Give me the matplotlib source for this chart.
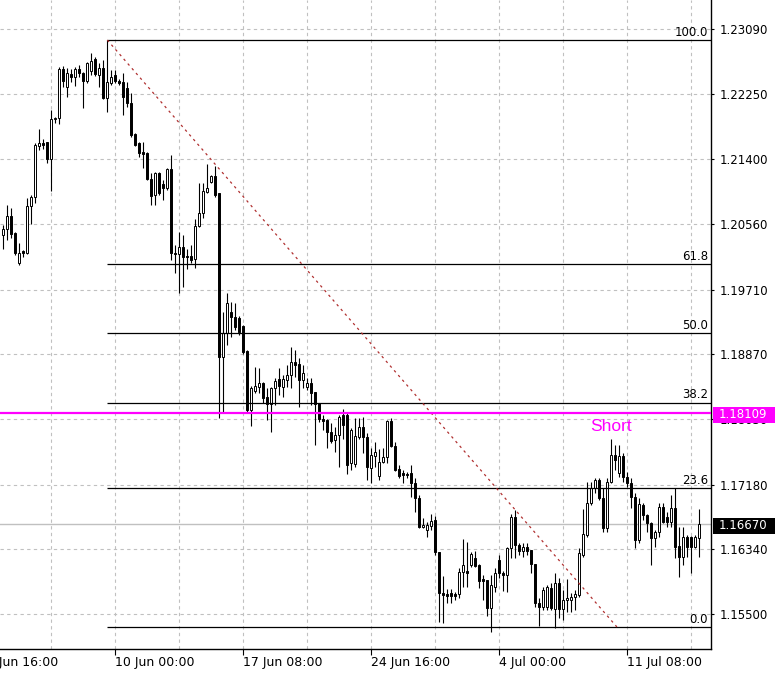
import numpy as np
import matplotlib
matplotlib.use("Agg")
import matplotlib.pyplot as plt
import matplotlib.transforms as mtransforms
from matplotlib.patches import Rectangle

# H4 candles (oldest first)
opens = [1.2042, 1.2050, 1.2066, 1.2044, 1.2006, 1.2021, 1.2019, 1.2079, 1.2091, 1.2157,
         1.2161, 1.2162, 1.2140, 1.2192, 1.2194, 1.2257, 1.2234, 1.2251, 1.2247, 1.2257,
         1.2252, 1.2242, 1.2255, 1.2270, 1.2249, 1.2258, 1.2220, 1.2239, 1.2249, 1.2242,
         1.2240, 1.2233, 1.2213, 1.2173, 1.2161, 1.2150, 1.2148, 1.2114, 1.2094, 1.2122,
         1.2108, 1.2103, 1.2127, 1.2019, 1.2017, 1.2026, 1.2015, 1.2015, 1.2011, 1.2054,
         1.2070, 1.2098, 1.2111, 1.2118, 1.2096, 1.1884, 1.1915, 1.1942, 1.1936, 1.1934,
         1.1924, 1.1891, 1.1815, 1.1840, 1.1845, 1.1850, 1.1832, 1.1823, 1.1843, 1.1855,
         1.1845, 1.1854, 1.1860, 1.1877, 1.1875, 1.1854, 1.1845, 1.1850, 1.1838, 1.1824,
         1.1803, 1.1802, 1.1786, 1.1776, 1.1782, 1.1808, 1.1808, 1.1746, 1.1745, 1.1780,
         1.1793, 1.1780, 1.1740, 1.1755, 1.1729, 1.1747, 1.1754, 1.1801, 1.1768, 1.1738,
         1.1733, 1.1732, 1.1733, 1.1720, 1.1701, 1.1663, 1.1659, 1.1664, 1.1672, 1.1631,
         1.1578, 1.1576, 1.1578, 1.1576, 1.1576, 1.1605, 1.1606, 1.1614, 1.1623, 1.1614,
         1.1596, 1.1594, 1.1558, 1.1585, 1.1620, 1.1603, 1.1601, 1.1636, 1.1676, 1.1640,
         1.1632, 1.1637, 1.1633, 1.1615, 1.1565, 1.1559, 1.1559, 1.1584, 1.1557, 1.1590,
         1.1557, 1.1568, 1.1568, 1.1572, 1.1575, 1.1627, 1.1653, 1.1694, 1.1714, 1.1724,
         1.1701, 1.1662, 1.1721, 1.1757, 1.1733, 1.1755, 1.1728, 1.1720, 1.1702, 1.1646,
         1.1692, 1.1679, 1.1668, 1.1649, 1.1657, 1.1689, 1.1676, 1.1670, 1.1688, 1.1638,
         1.1624, 1.1650, 1.1650, 1.1637, 1.1649]
highs = [1.2055, 1.2081, 1.2077, 1.2046, 1.2031, 1.2022, 1.2090, 1.2094, 1.2161, 1.2179,
         1.2166, 1.2162, 1.2204, 1.2195, 1.2260, 1.2261, 1.2258, 1.2257, 1.2260, 1.2262,
         1.2253, 1.2266, 1.2278, 1.2273, 1.2265, 1.2269, 1.2295, 1.2256, 1.2256, 1.2244,
         1.2252, 1.2240, 1.2226, 1.2174, 1.2162, 1.2162, 1.2150, 1.2122, 1.2124, 1.2124,
         1.2113, 1.2129, 1.2146, 1.2029, 1.2046, 1.2042, 1.2024, 1.2029, 1.2063, 1.2109,
         1.2109, 1.2134, 1.2120, 1.2131, 1.2096, 1.1942, 1.1967, 1.1955, 1.1954, 1.1937,
         1.1925, 1.1893, 1.1846, 1.1871, 1.1869, 1.1851, 1.1843, 1.1845, 1.1856, 1.1869,
         1.1860, 1.1873, 1.1897, 1.1893, 1.1882, 1.1873, 1.1856, 1.1856, 1.1838, 1.1824,
         1.1808, 1.1803, 1.1798, 1.1793, 1.1808, 1.1816, 1.1811, 1.1792, 1.1805, 1.1805,
         1.1806, 1.1785, 1.1766, 1.1773, 1.1764, 1.1766, 1.1802, 1.1805, 1.1773, 1.1744,
         1.1737, 1.1734, 1.1744, 1.1727, 1.1705, 1.1675, 1.1670, 1.1680, 1.1677, 1.1631,
         1.1600, 1.1583, 1.1583, 1.1579, 1.1610, 1.1648, 1.1644, 1.1631, 1.1632, 1.1615,
         1.1601, 1.1594, 1.1601, 1.1610, 1.1627, 1.1606, 1.1637, 1.1680, 1.1685, 1.1642,
         1.1642, 1.1642, 1.1633, 1.1615, 1.1571, 1.1585, 1.1588, 1.1590, 1.1603, 1.1597,
         1.1581, 1.1596, 1.1578, 1.1581, 1.1636, 1.1686, 1.1721, 1.1721, 1.1727, 1.1727,
         1.1714, 1.1727, 1.1777, 1.1769, 1.1769, 1.1759, 1.1734, 1.1727, 1.1707, 1.1701,
         1.1694, 1.1680, 1.1670, 1.1659, 1.1694, 1.1694, 1.1683, 1.1705, 1.1714, 1.1663,
         1.1663, 1.1653, 1.1651, 1.1653, 1.1686]
lows = [1.2024, 1.2035, 1.2038, 1.2016, 1.2003, 1.2013, 1.2017, 1.2056, 1.2083, 1.2152,
        1.2153, 1.2135, 1.2099, 1.2187, 1.2186, 1.2234, 1.2221, 1.2240, 1.2235, 1.2247,
        1.2207, 1.2239, 1.2249, 1.2248, 1.2234, 1.2218, 1.2201, 1.2236, 1.2239, 1.2236,
        1.2197, 1.2208, 1.2169, 1.2157, 1.2143, 1.2129, 1.2113, 1.2081, 1.2081, 1.2094,
        1.2087, 1.2100, 1.2009, 1.1993, 1.1967, 1.1974, 1.1998, 1.2006, 1.1999, 1.2052,
        1.2064, 1.2096, 1.2109, 1.2091, 1.1805, 1.1811, 1.1899, 1.1910, 1.1919, 1.1912,
        1.1888, 1.1811, 1.1794, 1.1837, 1.1837, 1.1824, 1.1802, 1.1786, 1.1821, 1.1834,
        1.1832, 1.1845, 1.1843, 1.1858, 1.1819, 1.1843, 1.1841, 1.1821, 1.1769, 1.1799,
        1.1789, 1.1766, 1.1772, 1.1760, 1.1741, 1.1777, 1.1732, 1.1737, 1.1741, 1.1777,
        1.1759, 1.1724, 1.1720, 1.1741, 1.1724, 1.1746, 1.1746, 1.1767, 1.1736, 1.1727,
        1.1720, 1.1727, 1.1702, 1.1683, 1.1662, 1.1662, 1.1650, 1.1659, 1.1627, 1.1540,
        1.1539, 1.1565, 1.1565, 1.1568, 1.1571, 1.1585, 1.1585, 1.1611, 1.1611, 1.1584,
        1.1568, 1.1548, 1.1527, 1.1579, 1.1597, 1.1580, 1.1579, 1.1623, 1.1623, 1.1627,
        1.1624, 1.1627, 1.1603, 1.1559, 1.1535, 1.1555, 1.1555, 1.1555, 1.1532, 1.1545,
        1.1543, 1.1553, 1.1553, 1.1555, 1.1572, 1.1624, 1.1650, 1.1692, 1.1707, 1.1698,
        1.1657, 1.1657, 1.1720, 1.1737, 1.1728, 1.1721, 1.1715, 1.1688, 1.1636, 1.1642,
        1.1672, 1.1657, 1.1614, 1.1637, 1.1650, 1.1668, 1.1663, 1.1663, 1.1623, 1.1598,
        1.1614, 1.1624, 1.1603, 1.1636, 1.1624]
closes = [1.2050, 1.2066, 1.2043, 1.2019, 1.2019, 1.2019, 1.2079, 1.2091, 1.2159, 1.2161,
          1.2159, 1.2140, 1.2192, 1.2194, 1.2257, 1.2242, 1.2252, 1.2247, 1.2257, 1.2252,
          1.2242, 1.2265, 1.2268, 1.2251, 1.2258, 1.2220, 1.2240, 1.2247, 1.2242, 1.2239,
          1.2221, 1.2213, 1.2172, 1.2159, 1.2148, 1.2147, 1.2114, 1.2092, 1.2122, 1.2096,
          1.2103, 1.2127, 1.2019, 1.2017, 1.2026, 1.2013, 1.2013, 1.2009, 1.2054, 1.2070,
          1.2099, 1.2103, 1.2118, 1.2094, 1.1884, 1.1915, 1.1954, 1.1936, 1.1923, 1.1916,
          1.1890, 1.1815, 1.1843, 1.1846, 1.1850, 1.1830, 1.1823, 1.1843, 1.1852, 1.1846,
          1.1855, 1.1860, 1.1877, 1.1873, 1.1854, 1.1863, 1.1850, 1.1837, 1.1823, 1.1803,
          1.1801, 1.1786, 1.1775, 1.1782, 1.1806, 1.1795, 1.1744, 1.1789, 1.1781, 1.1793,
          1.1780, 1.1741, 1.1757, 1.1760, 1.1747, 1.1754, 1.1801, 1.1768, 1.1737, 1.1729,
          1.1731, 1.1731, 1.1720, 1.1701, 1.1663, 1.1666, 1.1666, 1.1671, 1.1631, 1.1578,
          1.1575, 1.1574, 1.1574, 1.1574, 1.1605, 1.1614, 1.1603, 1.1628, 1.1613, 1.1593,
          1.1593, 1.1558, 1.1588, 1.1603, 1.1603, 1.1601, 1.1636, 1.1676, 1.1640, 1.1632,
          1.1637, 1.1632, 1.1615, 1.1565, 1.1559, 1.1581, 1.1585, 1.1558, 1.1590, 1.1557,
          1.1568, 1.1571, 1.1572, 1.1576, 1.1629, 1.1654, 1.1694, 1.1714, 1.1724, 1.1701,
          1.1662, 1.1721, 1.1757, 1.1750, 1.1755, 1.1728, 1.1720, 1.1702, 1.1646, 1.1693,
          1.1679, 1.1668, 1.1649, 1.1657, 1.1689, 1.1670, 1.1670, 1.1688, 1.1637, 1.1624,
          1.1650, 1.1637, 1.1637, 1.1650, 1.1667]

price_ticks = [1.23090, 1.22250, 1.21400, 1.20560, 1.19710,
               1.18870, 1.18030, 1.17180, 1.16340, 1.15500]
date_labels = ["2 Jun 16:00", "10 Jun 00:00", "17 Jun 08:00",
               "24 Jun 16:00", "4 Jul 00:00", "11 Jul 08:00"]
date_bars = [-4, 28, 60, 92, 124, 156]

# fibonacci retracement drawn from the 9 Jun high down to the July low
fib_high = 1.22947
fib_low = 1.15334
fib_start_bar = 26
fib_end_bar = 153.4
fib_levels = [100.0, 61.8, 50.0, 38.2, 23.6, 0.0]

short_price = 1.18109
last_price = 1.16670
MAGENTA = "#ff00ff"

XLIM = (-0.825, 176.925)
YLIM = (1.15048, 1.23466)

fig = plt.figure(figsize=(7.79, 6.73), dpi=100)
ax = fig.add_axes([0, 24 / 673, 711 / 779, 649 / 673])

# grid
for p in price_ticks:
    ax.axhline(p, color="#c0c0c0", lw=0.8, ls=(0, (3, 3)), zorder=0)
for b in range(-4, 177, 16):
    ax.axvline(b, color="#c0c0c0", lw=0.8, ls=(0, (3, 3)), zorder=0)

ax.axhline(last_price, color="#c0c0c0", lw=1.0, zorder=0.5)

# candles
x = np.arange(len(opens))
o = np.array(opens)
c = np.array(closes)
ax.vlines(x, lows, highs, color="black", lw=0.8, zorder=2)
bottoms = np.minimum(o, c)
heights = np.abs(c - o)
faces = ["white" if cc > oo else "black" for oo, cc in zip(o, c)]
ax.bar(x, heights, bottom=bottoms, width=0.5, color=faces,
       edgecolor="black", linewidth=0.7, zorder=3)

# fibo levels
lbl_tr = mtransforms.blended_transform_factory(ax.transAxes, ax.transData)
for lvl in fib_levels:
    p = fib_low + lvl / 100 * (fib_high - fib_low)
    ax.hlines(p, fib_start_bar, XLIM[1], color="black", lw=0.9, zorder=4)
    ax.text(0.996, p + 0.00018, f"{lvl:.1f}", transform=lbl_tr,
            ha="right", va="bottom", fontsize=8.5, color="black")
ax.plot([fib_start_bar, fib_end_bar], [fib_high, fib_low],
        color="#b03030", lw=0.9, ls=(0, (2, 3)), zorder=4)

# short level
ax.axhline(short_price, color=MAGENTA, lw=1.6, zorder=5)
ax.text(146.7, 1.17928, "Short", color=MAGENTA, fontsize=12.5,
        family="Liberation Sans", ha="left", va="center", zorder=5)

# axes styling
ax.yaxis.tick_right()
ax.set_yticks(price_ticks)
ax.set_yticklabels([f"{p:.5f}" for p in price_ticks])
ax.tick_params(axis="y", length=2, pad=4, labelsize=8.5, colors="black")
ax.set_xticks(date_bars)
ax.set_xticklabels([])
ax.tick_params(axis="x", length=4, colors="black")
for s in ["top", "left"]:
    ax.spines[s].set_visible(False)
for s in ["right", "bottom"]:
    ax.spines[s].set_color("black")
    ax.spines[s].set_linewidth(1.0)

# date labels drawn by hand so the one cut off at the left edge still shows
date_tr = mtransforms.blended_transform_factory(ax.transData, ax.transAxes)
for b, lab in zip(date_bars, date_labels):
    ax.annotate(lab, xy=(b, 0), xycoords=date_tr, xytext=(0, -5),
                textcoords="offset points", ha="left", va="top",
                fontsize=9, color="black", annotation_clip=False)

# limits last: set_xticks would widen them
ax.set_xlim(*XLIM)
ax.set_ylim(*YLIM)

# price boxes on the right axis
box_tr = mtransforms.blended_transform_factory(fig.transFigure, ax.transData)
for price, face in [(short_price, MAGENTA), (last_price, "black")]:
    fig.add_artist(Rectangle((713 / 779, price - 0.00128), 62 / 779, 0.00208,
                             transform=box_tr, facecolor=face, edgecolor="none",
                             zorder=5))
    fig.text(719 / 779, price - 0.00024, f"{price:.5f}", transform=box_tr,
             color="white", fontsize=8.5, va="center", ha="left", zorder=6)

fig.savefig("out.png", dpi=100, facecolor="white")
